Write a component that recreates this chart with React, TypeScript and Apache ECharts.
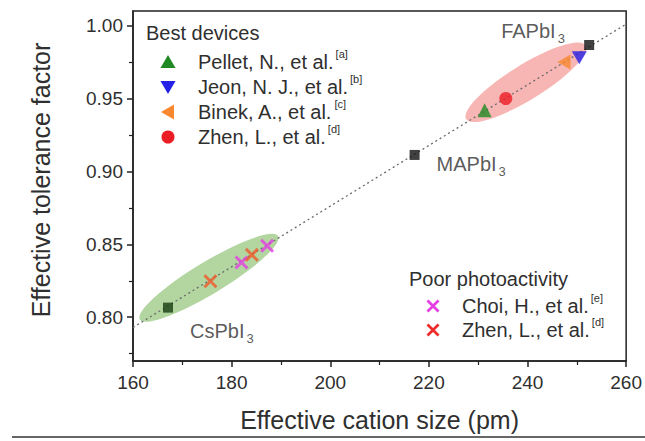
import React, { useEffect, useRef } from 'react';
import * as echarts from 'echarts';

// ---- axis ticks ----
const xTicks = [160, 180, 200, 220, 240, 260];
const yTicks = [0.8, 0.85, 0.9, 0.95, 1.0];
const yMinorTicks = [0.775, 0.825, 0.875, 0.925, 0.975];

// ---- guide line (tolerance factor vs. cation size) ----
const guideX = [160, 260];
const guideY = [0.793, 1.001];

// ---- reference perovskites ----
const perovskiteNames = ['CsPbI', 'MAPbI', 'FAPbI'];
const perovskiteSize = [167.1, 217.1, 252.5];
const perovskiteTol = [0.8066, 0.9113, 0.9867];

// ---- best devices ----
const pelletSize = [231.3];
const pelletTol = [0.942];
const jeonSize = [250.5];
const jeonTol = [0.978];
const binekSize = [247.4];
const binekTol = [0.975];
const zhenBestSize = [235.6];
const zhenBestTol = [0.95];

// ---- poor photoactivity ----
const choiSize = [182.0, 187.2];
const choiTol = [0.8376, 0.849];
const zhenPoorSize = [175.7, 184.1];
const zhenPoorTol = [0.8247, 0.8428];

// ---- highlighted regions (major-axis end points, data units) ----
const greenRegion = [161.4, 0.7984, 189.4, 0.8557];
const pinkRegion = [227.55, 0.9359, 251.8, 0.9863];

// ---- legend texts ----
const bestTitle = 'Best devices';
const bestNames = ['Pellet, N., et al.', 'Jeon, N. J., et al.', 'Binek, A., et al.', 'Zhen, L., et al.'];
const bestRefs = ['[a]', '[b]', '[c]', '[d]'];
const poorTitle = 'Poor photoactivity';
const poorNames = ['Choi, H., et al.', 'Zhen, L., et al.'];
const poorRefs = ['[e]', '[d]'];

const FONT = 'Liberation Sans, Arial, Helvetica, sans-serif';
const TEXT = '#2f2f2f';
const AXIS = '#222222';

const C_GREEN = '#1f8a24';
const C_BLUE = '#2420e6';
const C_ORANGE = '#f7882f';
const C_RED = '#ec1c24';
const C_MAGENTA = '#e43ee4';
const C_XRED = '#f0582a';
const C_XRED_LEG = '#ef2c2c';

const DOWN_TRI = 'path://M0,0L10,0L5,9Z';
const LEFT_TRI = 'path://M0,5L9,0L9,10Z';
const X_PATH = 'path://M1.5,0L5,3.5L8.5,0L10,1.5L6.5,5L10,8.5L8.5,10L5,6.5L1.5,10L0,8.5L3.5,5L0,1.5Z';

const labelOffsets: Record<string, number[]> = {
  CsPbI: [22, 25],
  MAPbI: [22, 11],
  FAPbI: [-88, -12],
};

const zip = (xs: number[], ys: number[]) => xs.map((x, i) => [x, ys[i]]);

function xPoints(cx: number, cy: number, s: number) {
  const pts = [
    [1.5, 0], [5, 3.5], [8.5, 0], [10, 1.5], [6.5, 5], [10, 8.5],
    [8.5, 10], [5, 6.5], [1.5, 10], [0, 8.5], [3.5, 5], [0, 1.5],
  ];
  return pts.map(([px, py]) => [cx + (px - 5) * s / 10, cy + (py - 5) * s / 10]);
}

function marker(kind: string, cx: number, cy: number, color: string): any {
  switch (kind) {
    case 'up':
      return { type: 'polygon', shape: { points: [[cx, cy - 7], [cx + 7.5, cy + 6], [cx - 7.5, cy + 6]] }, style: { fill: color } };
    case 'down':
      return { type: 'polygon', shape: { points: [[cx - 7.5, cy - 6], [cx + 7.5, cy - 6], [cx, cy + 7]] }, style: { fill: color } };
    case 'left':
      return { type: 'polygon', shape: { points: [[cx - 7, cy], [cx + 6, cy - 7.5], [cx + 6, cy + 7.5]] }, style: { fill: color } };
    case 'circle':
      return { type: 'circle', shape: { cx, cy, r: 6.5 }, style: { fill: color } };
    default:
      return { type: 'polygon', shape: { points: xPoints(cx, cy, 13) }, style: { fill: color } };
  }
}

function legendText(x: number, y: number, name: string, ref: string): any {
  return {
    type: 'text',
    x,
    y: y - 2,
    style: {
      text: `{n|${name}}{s|${ref}}`,
      verticalAlign: 'middle',
      align: 'left',
      fill: TEXT,
      fontFamily: FONT,
      fontSize: 20,
      rich: {
        n: { fontSize: 20, fontFamily: FONT, fill: TEXT, lineHeight: 23, verticalAlign: 'bottom' },
        s: { fontSize: 11, fontFamily: FONT, fill: TEXT, verticalAlign: 'top', padding: [0, 0, 0, 2] },
      },
    },
  };
}

function regionRender(params: any, api: any) {
  const p1 = api.coord([api.value(0), api.value(1)]);
  const p2 = api.coord([api.value(2), api.value(3)]);
  const cx = (p1[0] + p2[0]) / 2;
  const cy = (p1[1] + p2[1]) / 2;
  const rx = Math.hypot(p2[0] - p1[0], p2[1] - p1[1]) / 2;
  const angle = Math.atan2(p1[1] - p2[1], p2[0] - p1[0]);
  const isGreen = params.seriesName === 'greenRegion';
  return {
    type: 'ellipse',
    x: cx,
    y: cy,
    rotation: angle,
    shape: { cx: 0, cy: 0, rx, ry: isGreen ? 16 : 17.5 },
    style: { fill: isGreen ? '#b3d5a0' : '#f7b6b4' },
  };
}

export default function App() {
  const ref = useRef<HTMLDivElement>(null);

  useEffect(() => {
    if (!ref.current) return;
    const chart = echarts.init(ref.current, undefined, { renderer: 'svg' });

    const bestRows = [62, 87, 112, 137];
    const bestKinds = ['up', 'down', 'left', 'circle'];
    const bestColors = [C_GREEN, C_BLUE, C_ORANGE, C_RED];
    const poorRows = [306, 330];
    const poorColors = [C_MAGENTA, C_XRED_LEG];

    const graphic: any[] = [
      {
        type: 'text',
        x: 146,
        y: 33,
        style: { text: bestTitle, fill: TEXT, fontFamily: FONT, fontSize: 20, verticalAlign: 'middle' },
      },
      ...bestNames.map((n, i) => marker(bestKinds[i], 168, bestRows[i], bestColors[i])),
      ...bestNames.map((n, i) => legendText(198, bestRows[i], n, bestRefs[i])),
      {
        type: 'text',
        x: 409,
        y: 279,
        style: { text: poorTitle, fill: TEXT, fontFamily: FONT, fontSize: 20, verticalAlign: 'middle' },
      },
      ...poorNames.map((n, i) => marker('x', 433, poorRows[i], poorColors[i])),
      ...poorNames.map((n, i) => legendText(462, poorRows[i], n, poorRefs[i])),
      {
        type: 'line',
        shape: { x1: 12, y1: 437, x2: 645, y2: 437 },
        style: { stroke: '#333', lineWidth: 1.5 },
      },
    ];

    const scatterBase = { type: 'scatter', z: 4, silent: true, xAxisIndex: 0, yAxisIndex: 0 };

    chart.setOption({
      animation: false,
      backgroundColor: '#ffffff',
      textStyle: { fontFamily: FONT },
      grid: {
        left: 133,
        top: 11,
        width: 494,
        height: 350,
        show: true,
        borderColor: AXIS,
        borderWidth: 1.5,
        backgroundColor: 'transparent',
      },
      xAxis: {
        type: 'value',
        min: 160,
        max: 260,
        interval: 20,
        axisLine: { show: true, lineStyle: { color: AXIS, width: 1.5 } },
        axisTick: { show: true, length: 6, lineStyle: { color: AXIS, width: 1.5 } },
        minorTick: { show: true, splitNumber: 2, length: 4, lineStyle: { color: AXIS, width: 1.2 } },
        splitLine: { show: false },
        axisLabel: {
          color: TEXT,
          fontSize: 19,
          fontFamily: FONT,
          margin: 12,
          customValues: xTicks,
        },
        name: 'Effective cation size (pm)',
        nameLocation: 'middle',
        nameGap: 46,
        nameTextStyle: { color: TEXT, fontSize: 25, fontFamily: FONT },
      },
      yAxis: [
        {
          type: 'value',
          min: 0.77,
          max: 1.01,
          axisLine: { show: true, lineStyle: { color: AXIS, width: 1.5 } },
          axisTick: { show: true, length: 6, lineStyle: { color: AXIS, width: 1.5 }, customValues: yTicks },
          splitLine: { show: false },
          axisLabel: {
            color: TEXT,
            fontSize: 19,
            fontFamily: FONT,
            margin: 10,
            customValues: yTicks,
            formatter: (v: number) => v.toFixed(2),
          },
          name: 'Effective tolerance factor',
          nameLocation: 'middle',
          nameGap: 80,
          nameRotate: 90,
          nameTextStyle: { color: TEXT, fontSize: 25, fontFamily: FONT, padding: [0, 0, 0, 12] },
        },
        {
          type: 'value',
          min: 0.77,
          max: 1.01,
          position: 'left',
          offset: 0,
          axisLine: { show: false },
          axisTick: { show: true, length: 4, lineStyle: { color: AXIS, width: 1.2 }, customValues: yMinorTicks },
          axisLabel: { show: false },
          splitLine: { show: false },
        },
      ],
      series: [
        {
          name: 'greenRegion',
          type: 'custom',
          z: 1,
          silent: true,
          renderItem: regionRender,
          data: [greenRegion],
        },
        {
          name: 'pinkRegion',
          type: 'custom',
          z: 1,
          silent: true,
          renderItem: regionRender,
          data: [pinkRegion],
        },
        {
          name: 'guide',
          type: 'line',
          z: 2,
          silent: true,
          symbol: 'none',
          data: zip(guideX, guideY),
          lineStyle: { color: '#6a6a6a', width: 1.3, type: [2, 3] },
        },
        {
          ...scatterBase,
          name: 'Perovskites',
          symbol: 'rect',
          symbolSize: 10,
          itemStyle: { color: '#111111' },
          data: perovskiteNames.map((n, i) => ({
            name: n,
            value: [perovskiteSize[i], perovskiteTol[i]],
            itemStyle: { color: i === 0 ? '#173d12' : '#111111' },
            label: {
              show: true,
              position: 'inside',
              align: 'left',
              verticalAlign: 'middle',
              offset: labelOffsets[n],
              formatter: `{m|${n}}{s|3}`,
              rich: {
                m: { fontSize: 20, fontFamily: FONT, color: TEXT, lineHeight: 24, verticalAlign: 'top' },
                s: { fontSize: 13, fontFamily: FONT, color: TEXT, verticalAlign: 'bottom', padding: [0, 0, 0, 2] },
              },
            },
          })),
        },
        {
          ...scatterBase,
          name: bestNames[0],
          symbol: 'triangle',
          symbolSize: 14,
          itemStyle: { color: C_GREEN },
          data: zip(pelletSize, pelletTol),
        },
        {
          ...scatterBase,
          name: bestNames[1],
          symbol: DOWN_TRI,
          symbolSize: [15, 13],
          itemStyle: { color: C_BLUE },
          data: zip(jeonSize, jeonTol),
        },
        {
          ...scatterBase,
          name: bestNames[2],
          symbol: LEFT_TRI,
          symbolSize: [13, 15],
          itemStyle: { color: C_ORANGE },
          data: zip(binekSize, binekTol),
        },
        {
          ...scatterBase,
          name: bestNames[3],
          symbol: 'circle',
          symbolSize: 13,
          itemStyle: { color: C_RED },
          data: zip(zhenBestSize, zhenBestTol),
        },
        {
          ...scatterBase,
          name: poorNames[0],
          symbol: X_PATH,
          symbolSize: 14,
          itemStyle: { color: C_MAGENTA },
          data: zip(choiSize, choiTol),
        },
        {
          ...scatterBase,
          name: 'Zhen, L., et al. (poor)',
          symbol: X_PATH,
          symbolSize: 14,
          itemStyle: { color: C_XRED },
          data: zip(zhenPoorSize, zhenPoorTol),
        },
      ],
      graphic,
    });

    return () => chart.dispose();
  }, []);

  return (
    <div
      ref={ref}
      style={{ position: 'fixed', left: 0, top: 0, width: 645, height: 441, background: '#fff' }}
    />
  );
}
